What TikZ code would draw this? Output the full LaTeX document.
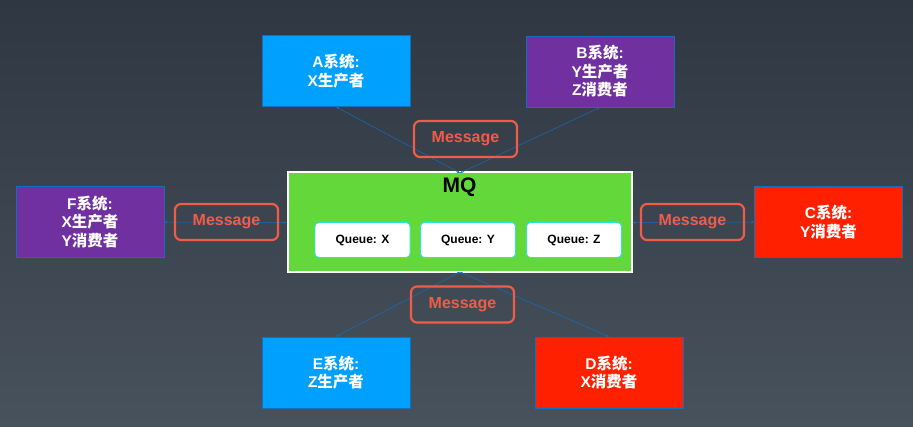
\documentclass[tikz,border=0pt]{standalone}
\usepackage{fontspec}
\setmainfont{Liberation Sans}
\newfontfamily\cjk{Noto Sans CJK SC}
\newcommand{\zh}[1]{{\cjk #1}}
\usetikzlibrary{arrows.meta}
\definecolor{bgtop}{RGB}{46,55,66}
\definecolor{bgbot}{RGB}{72,82,93}
\definecolor{sysblue}{RGB}{0,160,255}
\definecolor{syspurple}{RGB}{112,48,160}
\definecolor{sysred}{RGB}{255,32,0}
\definecolor{edgeblue}{RGB}{20,110,190}
\definecolor{mqgreen}{RGB}{98,216,58}
\definecolor{msgred}{RGB}{240,92,72}
\definecolor{qcyan}{RGB}{40,230,230}
\begin{document}
\begin{tikzpicture}[x=1pt,y=-1pt,
  sysbox/.style={draw=edgeblue,line width=0.8pt,minimum width=148pt,minimum height=71pt,inner sep=0pt,
    text=white,font=\bfseries\fontsize{15.5}{18.5}\selectfont,align=center},
  msgbox/.style={draw=msgred,line width=2.2pt,rounded corners=6pt,minimum width=103pt,minimum height=36pt,
    inner sep=0pt,text=msgred,font=\bfseries\fontsize{16}{18}\selectfont},
  queuebox/.style={fill=white,draw=qcyan,line width=0.8pt,rounded corners=4pt,minimum width=95pt,minimum height=35pt,
    inner sep=0pt,font=\bfseries\fontsize{12}{14}\selectfont},
  link/.style={draw=edgeblue,line width=0.5pt,{Stealth[length=3pt,width=2.5pt]}-{Stealth[length=3pt,width=2.5pt]}}]
\shade[top color=bgtop,bottom color=bgbot] (0,0) rectangle (913,427);
\useasboundingbox (0,0) rectangle (913,427);
% MQ
\node[fill=mqgreen,draw=white,line width=2pt,minimum width=344pt,minimum height=100pt,inner sep=0pt] (mq) at (459.5,222.5) {};
\node[font=\bfseries\fontsize{21}{23}\selectfont] (mqlabel) at (459.5,187) {MQ};
\node[queuebox] (qx) at (362.5,240) {Queue: X};
\node[queuebox] (qy) at (468,240) {Queue: Y};
\node[queuebox] (qz) at (574,240) {Queue: Z};
% systems
\node[sysbox,fill=sysblue] (a) at (336,71) {A\zh{系统}:\\X\zh{生产者}};
\node[sysbox,fill=syspurple] (b) at (600,71.5) {B\zh{系统}:\\Y\zh{生产者}\\Z\zh{消费者}};
\node[sysbox,fill=syspurple] (f) at (90,222) {F\zh{系统}:\\X\zh{生产者}\\Y\zh{消费者}};
\node[sysbox,fill=sysred] (c) at (828.5,222) {C\zh{系统}:\\Y\zh{消费者}};
\node[sysbox,fill=sysblue] (e) at (336,372.5) {E\zh{系统}:\\Z\zh{生产者}};
\node[sysbox,fill=sysred] (d) at (609,372.5) {D\zh{系统}:\\X\zh{消费者}};
% links
\coordinate (mqt) at (460,173);
\coordinate (mqb) at (460,272);
\draw[link] (a.south) -- (mqt);
\draw[link] (b.south) -- (mqt);
\draw[link] (f.east) -- (mq.west);
\draw[link] (c.west) -- (mq.east);
\draw[link] (e.north) -- (mqb);
\draw[link] (d.north) -- (mqb);
% messages
\node[msgbox] (m1) at (465.5,139) {Message};
\node[msgbox] (m2) at (226.5,222) {Message};
\node[msgbox] (m3) at (692.5,222) {Message};
\node[msgbox] (m4) at (462.5,304.5) {Message};
\end{tikzpicture}
\end{document}
